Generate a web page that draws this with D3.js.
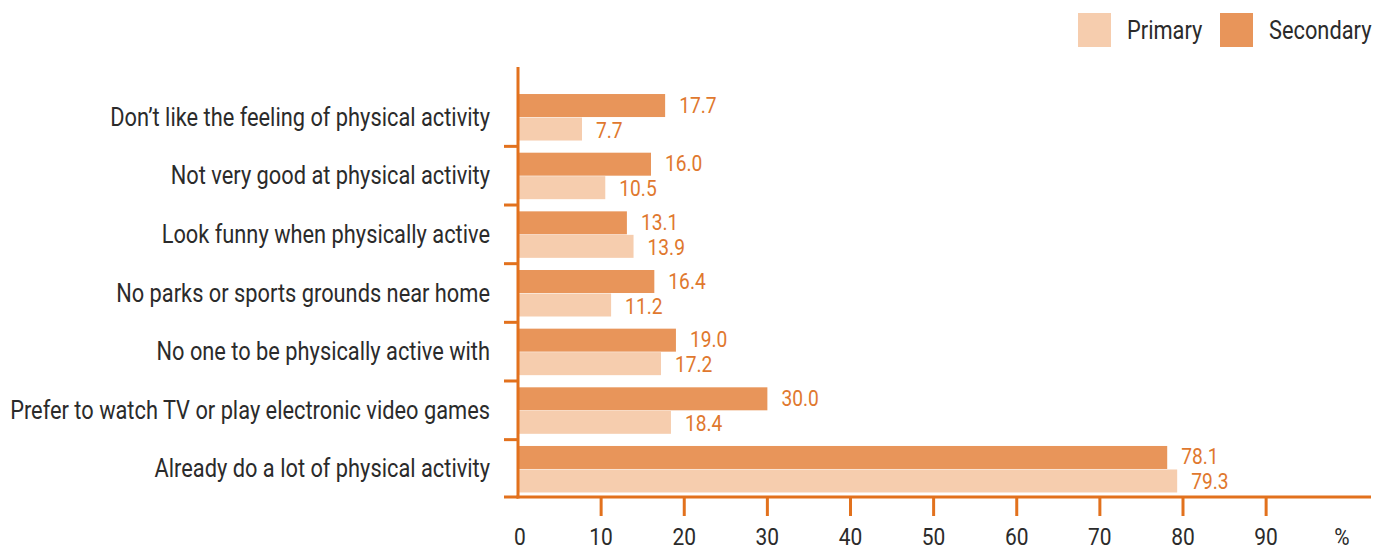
<!DOCTYPE html>
<html><head><meta charset="utf-8">
<script src="https://cdn.jsdelivr.net/npm/d3@7"></script>
<style>
body{margin:0;background:#fff;}
text{font-family:Roboto,"Liberation Sans",sans-serif;}
</style></head>
<body><svg id="c" width="1386" height="549"></svg>
<script>
const categories = [
  "Don\u2019t like the feeling of physical activity",
  "Not very good at physical activity",
  "Look funny when physically active",
  "No parks or sports grounds near home",
  "No one to be physically active with",
  "Prefer to watch TV or play electronic video games",
  "Already do a lot of physical activity"
];
const secondary = [17.7, 16.0, 13.1, 16.4, 19.0, 30.0, 78.1];
const primary = [7.7, 10.5, 13.9, 11.2, 17.2, 18.4, 79.3];
const xTicks = [0,10,20,30,40,50,60,70,80,90];
const seriesNames = ["Primary","Secondary"];

const colSec = "#E8955A", colPri = "#F6CDAE", axisCol = "#E2711D", valCol = "#E0782E", textCol = "#2b2b2b";
const svg = d3.select("#c");
const x0 = 518, axisY = 497;
const x = d3.scaleLinear().domain([0,80]).range([x0,1183]);
const y = d3.scaleBand().domain(categories).range([87.7, 498.3]);
const barH = 23;

// condensed-font emulation: measure longest label and compress horizontally
const tmp = svg.append("text").attr("font-size",25).text(categories[5]);
const sx = 480 / tmp.node().getComputedTextLength();
tmp.remove();

function label(parent, tx, ty, str, size, anchor, fill){
  return parent.append("text")
    .attr("transform", `translate(${tx},${ty}) scale(${sx},1)`)
    .attr("text-anchor", anchor).attr("font-size", size).attr("fill", fill).text(str);
}

// bars
const g = svg.append("g");
categories.forEach((c,i)=>{
  const yc = y(c) + y.bandwidth()/2;
  g.append("rect").attr("x",x(0)).attr("y",yc-barH).attr("width",x(secondary[i])-x(0)).attr("height",barH).attr("fill",colSec);
  g.append("rect").attr("x",x(0)).attr("y",yc+0.5).attr("width",x(primary[i])-x(0)).attr("height",barH).attr("fill",colPri);
  label(g, x(secondary[i])+14, yc-4.5, secondary[i].toFixed(1), 22, "start", valCol);
  label(g, x(primary[i])+14, yc+20.5, primary[i].toFixed(1), 22, "start", valCol);
  label(g, 490, yc+8.5, c, 25, "end", textCol);
});

// y axis
svg.append("line").attr("x1",x0).attr("x2",x0).attr("y1",67).attr("y2",axisY+1.5).attr("stroke",axisCol).attr("stroke-width",3);
categories.slice(1).forEach(c=>{
  svg.append("line").attr("x1",x0-14).attr("x2",x0).attr("y1",y(c)).attr("y2",y(c)).attr("stroke",axisCol).attr("stroke-width",3);
});
svg.append("line").attr("x1",x0-14).attr("x2",x0).attr("y1",axisY).attr("y2",axisY).attr("stroke",axisCol).attr("stroke-width",3);

// x axis
svg.append("line").attr("x1",x0-1.5).attr("x2",1371).attr("y1",axisY).attr("y2",axisY).attr("stroke",axisCol).attr("stroke-width",3);
xTicks.forEach(t=>{
  if(t>0) svg.append("line").attr("x1",x(t)).attr("x2",x(t)).attr("y1",axisY).attr("y2",516).attr("stroke",axisCol).attr("stroke-width",3);
  label(svg, x(t)+(t===0?2:0), 545, t, 24, "middle", textCol);
});
label(svg, 1342, 545, "%", 24, "middle", textCol);

// legend
const leg = [{n:seriesNames[0],c:colPri,x:1078},{n:seriesNames[1],c:colSec,x:1220}];
leg.forEach(l=>{
  svg.append("rect").attr("x",l.x).attr("y",13).attr("width",33).attr("height",34).attr("fill",l.c);
  label(svg, l.x+49, 39, l.n, 25, "start", textCol);
});
</script></body></html>
